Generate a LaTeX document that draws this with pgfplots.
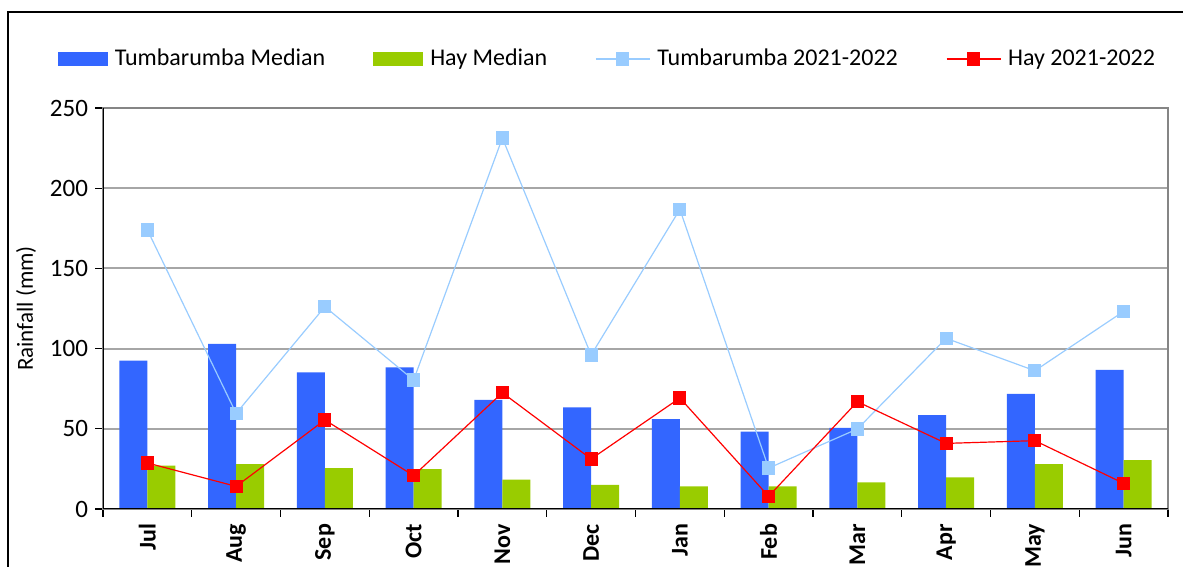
\documentclass[border=0pt]{standalone}
\usepackage{fontspec}
\setmainfont{Carlito}
\usepackage{pgfplots}
\pgfplotsset{compat=1.18}
\definecolor{tmed}{HTML}{3366FF}
\definecolor{hmed}{HTML}{99CC00}
\definecolor{tcur}{HTML}{99CCFF}
\definecolor{hcur}{HTML}{FF0000}
\definecolor{gridc}{HTML}{A6A6A6}
\definecolor{framec}{HTML}{858585}
\begin{document}
\begin{tikzpicture}
\useasboundingbox (0pt,0pt) rectangle (591.5pt,283.5pt);
\draw[black, line width=0.6pt] (4pt,-1pt) -- (4pt,277.5pt) -- (592pt,277.5pt);
\begin{axis}[
  at={(51.5pt,29pt)}, anchor=south west,
  scale only axis, width=532.5pt, height=200.5pt,
  xmin=-0.5, xmax=11.5, ymin=0, ymax=250,
  xtick={0,...,11},
  xticklabels={Jul,Aug,Sep,Oct,Nov,Dec,Jan,Feb,Mar,Apr,May,Jun},
  major x tick style={draw=none},
  minor xtick={-0.5,0.5,...,11.5},
  x tick label style={rotate=90, anchor=east, font=\fontsize{12}{14}\selectfont\bfseries},
  ytick={0,50,...,250},
  y tick label style={font=\fontsize{12.5}{14}\selectfont},
  /pgf/number format/assume math mode=true,
  ymajorgrids, grid style={gridc, line width=1pt},
  tick align=outside, major tick length=4pt, minor tick length=4pt,
  tick style={black, line width=0.6pt},
  xtick pos=bottom, ytick pos=left,
  axis line style={framec, line width=1pt},
  ylabel={Rainfall (mm)},
  ylabel style={font=\fontsize{11.5}{14}\selectfont},
  legend columns=4,
  legend style={draw=none, fill=none, at={(0.4746,1.122)}, anchor=center,
    font=\fontsize{12}{14}\selectfont,
    /tikz/every odd column/.append style={column sep=1.5pt},
    /tikz/every even column/.append style={column sep=22pt},
    inner sep=0pt},
  legend cell align=left,
]
\addplot[ybar, fill=tmed, draw=none, bar width=14pt, bar shift=-7pt,
  legend image code/.code={\fill[tmed] (0pt,-3.5pt) rectangle (25pt,3.5pt);}]
  coordinates {(0,92.5) (1,102.9) (2,85.2) (3,88.3) (4,68.1) (5,63.4) (6,56.1) (7,48.2) (8,50.5) (9,58.6) (10,71.7) (11,86.8)};
\addlegendentry{Tumbarumba Median}
\addplot[ybar, fill=hmed, draw=none, bar width=14pt, bar shift=7pt,
  legend image code/.code={\fill[hmed] (0pt,-3.5pt) rectangle (25pt,3.5pt);}]
  coordinates {(0,27.0) (1,28.0) (2,25.5) (3,24.9) (4,18.3) (5,15.1) (6,14.1) (7,14.1) (8,16.6) (9,19.7) (10,28.0) (11,30.5)};
\addlegendentry{Hay Median}
\addplot[tcur, line width=0.6pt, mark=square*, mark size=3pt, mark options={fill=tcur, draw=tcur},
  legend image code/.code={\draw[tcur, line width=0.6pt] (0pt,0pt) -- (27pt,0pt); \fill[tcur] (10.5pt,-3pt) rectangle (16.5pt,3pt);}]
  coordinates {(0,174.0) (1,59.6) (2,126.1) (3,80.4) (4,231.3) (5,96.0) (6,186.8) (7,25.5) (8,49.9) (9,106.4) (10,86.2) (11,123.2)};
\addlegendentry{Tumbarumba 2021-2022}
\addplot[hcur, line width=0.6pt, mark=square*, mark size=3pt, mark options={fill=hcur, draw=hcur},
  legend image code/.code={\draw[hcur, line width=0.6pt] (0pt,0pt) -- (27pt,0pt); \fill[hcur] (10.5pt,-3pt) rectangle (16.5pt,3pt);}]
  coordinates {(0,28.7) (1,14.1) (2,55.5) (3,20.8) (4,72.5) (5,31.2) (6,69.2) (7,7.9) (8,66.9) (9,40.9) (10,42.6) (11,16.0)};
\addlegendentry{Hay 2021-2022}
\draw[black, line width=1pt] (rel axis cs:0,1) -- (rel axis cs:0,0) -- (rel axis cs:1,0);
\end{axis}
\end{tikzpicture}
\end{document}
